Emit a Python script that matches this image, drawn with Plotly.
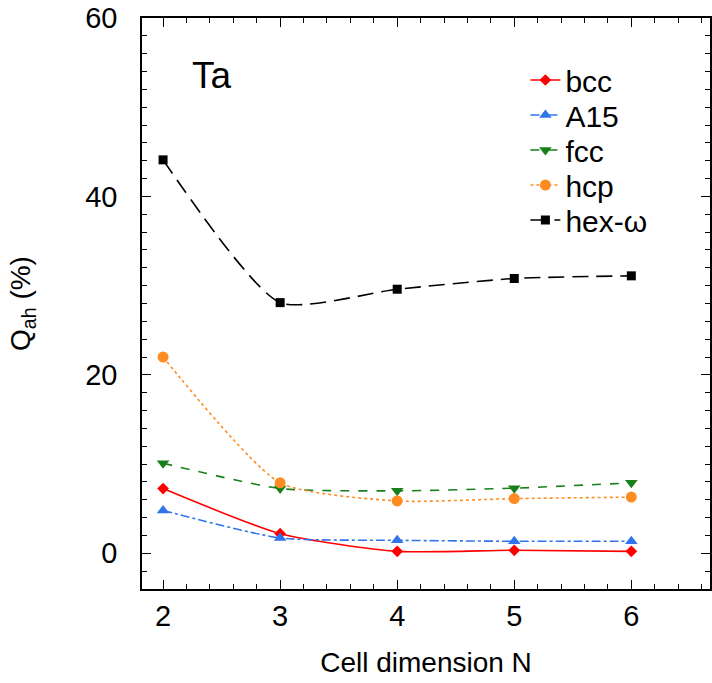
import plotly.graph_objects as go

N = [2, 3, 4, 5, 6]
bcc = [7.26, 2.2, 0.22, 0.34, 0.22]
a15 = [4.8, 1.72, 1.46, 1.35, 1.35]
fcc = [10.1, 7.26, 7.0, 7.3, 7.9]
hcp = [22.0, 7.9, 5.87, 6.13, 6.3]
hexw = [44.1, 28.1, 29.6, 30.8, 31.1]

series = [
    ("bcc", bcc, "#ff0000", "solid", "diamond", 9),
    ("A15", a15, "#2f74ee", "dashdot", "triangle-up", 11),
    ("fcc", fcc, "#17801a", "dash", "triangle-down", 11),
    ("hcp", hcp, "#ff8c22", "dot", "circle", 11),
    ("hex-ω", hexw, "#000000", "16px,8px", "square", 9),
]

FONT = "Liberation Sans, Arial"

fig = go.Figure()
legend_layout = {}
for i, (name, vals, col, dash, sym, sz) in enumerate(series):
    lname = "legend" if i == 0 else f"legend{i + 1}"
    fig.add_trace(go.Scatter(
        x=N, y=vals, name=name, mode="lines+markers",
        line=dict(color=col, dash=dash, width=1.6, shape="spline", smoothing=0.6),
        marker=dict(symbol=sym, size=sz, color=col),
        legend=lname,
    ))
    # each legend entry centred at 80 + 35*i px from top of the figure
    yc = 80 + 35.0 * i
    legend_layout[lname] = dict(
        x=0.675, y=(589 - yc) / 571.0, xanchor="left", yanchor="middle",
        font=dict(family=FONT, size=30, color="black"),
        bgcolor="rgba(0,0,0,0)",
    )

axis_common = dict(
    ticks="inside", ticklen=9, tickwidth=1.2, tickcolor="black",
    showgrid=False, zeroline=False,
    showline=True, linecolor="black", linewidth=1.5, mirror="allticks",
    tickfont=dict(family=FONT, size=29, color="black"),
)

fig.update_xaxes(
    range=[1.82, 6.672], tickvals=[2, 3, 4, 5, 6],
    minor=dict(dtick=0.2, tick0=2, ticks="inside", ticklen=5, tickcolor="black", tickwidth=1),
    ticklabelstandoff=0,
    title=dict(text="Cell dimension N", font=dict(family=FONT, size=28, color="black"), standoff=22),
    **axis_common,
)
fig.update_yaxes(
    range=[-4, 60], tickvals=[0, 20, 40, 60],
    minor=dict(dtick=2, tick0=0, ticks="inside", ticklen=5, tickcolor="black", tickwidth=1),
    ticklabelstandoff=17,
    title=dict(text="Q<sub>ah</sub> (%)", font=dict(family=FONT, size=28, color="black"), standoff=46),
    **axis_common,
)

fig.add_annotation(text="Ta", x=0.123, y=0.9, xref="paper", yref="paper",
                   showarrow=False, xanchor="center", yanchor="middle",
                   font=dict(family=FONT, size=37, color="black"))

fig.update_layout(
    width=712, height=683,
    margin=dict(l=142, r=0, t=18, b=94),
    paper_bgcolor="white", plot_bgcolor="white",
    showlegend=True,
    **legend_layout,
)

fig.write_html("out.html")
